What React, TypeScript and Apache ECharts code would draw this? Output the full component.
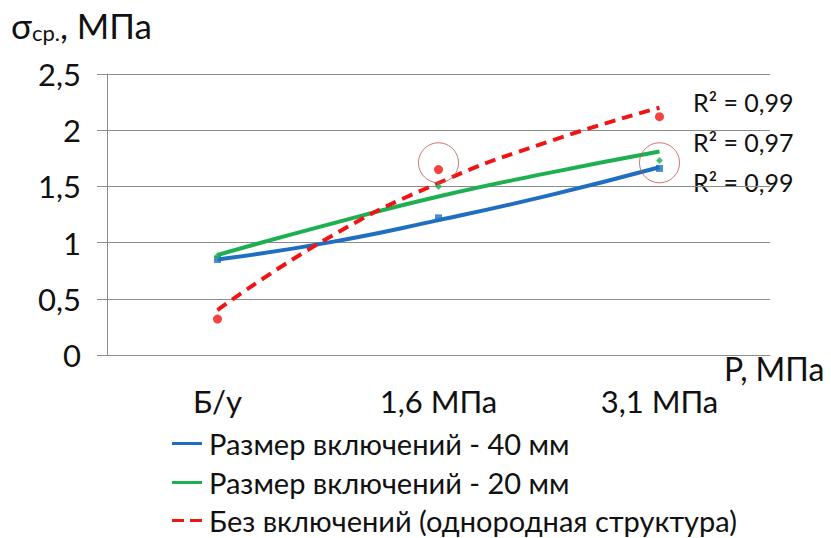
import React, { useEffect, useRef } from "react";
import * as echarts from "echarts";

const categories = ["Б/у", "1,6 МПа", "3,1 МПа"];
const seriesNames = [
  "Размер включений - 40 мм",
  "Размер включений - 20 мм",
  "Без включений (однородная структура)",
];
// measured points
const blueValues = [0.85, 1.22, 1.66];
const greenValues = [0.88, 1.5, 1.73];
const redValues = [0.32, 1.65, 2.12];
// trend lines at positions
const trendX = [1, 1.5, 2, 2.5, 3];
const blueTrend = [0.85, 1.0, 1.2, 1.42, 1.67];
const greenTrend = [0.89, 1.16, 1.41, 1.62, 1.81];
const redTrend = [0.4, 1.04, 1.53, 1.9, 2.2];
// annotation circles (category index, value)
const circleMarks = [
  [1, 1.71],
  [2, 1.71],
];
const r2Labels = ["R² = 0,99", "R² = 0,97", "R² = 0,99"];
const yTicks = [0, 0.5, 1, 1.5, 2, 2.5];

const FONT = "Lato, 'Open Sans', Roboto, sans-serif";
const BLUE = "#1F6FC0";
const GREEN = "#1DAF50";
const RED = "#F01414";
const COLORS = [BLUE, GREEN, RED];

const SOLID_ICON = "path://M0,0h30v3h-30z";
const DASH_ICON = "path://M0,0h12v3h-12z M18,0h12v3h-12z";
const ICONS = [SOLID_ICON, SOLID_ICON, DASH_ICON];
const LEGEND_TOPS = [429, 468, 506];

export default function App() {
  const ref = useRef<HTMLDivElement>(null);
  useEffect(() => {
    if (!ref.current) return;
    const chart = echarts.init(ref.current, undefined, { renderer: "svg" });
    const pair = (xs: number[], ys: number[]) => xs.map((x, i) => [x, ys[i]]);
    chart.setOption({
      animation: false,
      textStyle: { fontFamily: FONT },
      grid: { left: 107, right: 61, top: 74, bottom: 183, containLabel: false },
      xAxis: [
        {
          type: "category",
          data: categories,
          boundaryGap: true,
          axisLine: { lineStyle: { color: "#8c8c8c", width: 1 } },
          axisTick: { alignWithLabel: true, length: 8, lineStyle: { color: "#8c8c8c" } },
          axisLabel: { fontSize: 31, color: "#111", margin: 30, fontFamily: FONT },
        },
        { type: "value", min: 0.5, max: 3.5, show: false },
      ],
      yAxis: {
        type: "value",
        min: yTicks[0],
        max: yTicks[yTicks.length - 1],
        interval: 0.5,
        axisLine: { show: true, lineStyle: { color: "#8c8c8c", width: 1 } },
        axisTick: { show: true, length: 10, lineStyle: { color: "#8c8c8c" } },
        splitLine: { lineStyle: { color: "#8c8c8c", width: 1 } },
        axisLabel: {
          fontSize: 31,
          color: "#111",
          margin: 26,
          fontFamily: FONT,
          formatter: (v: number) => String(v).replace(".", ","),
        },
      },
      legend: seriesNames.map((name, i) => ({
        orient: "vertical",
        left: 172,
        top: LEGEND_TOPS[i],
        padding: 0,
        itemWidth: 30,
        itemHeight: 3,
        itemGap: 0,
        data: [{ name, icon: ICONS[i], itemStyle: { color: COLORS[i] } }],
        textStyle: { fontSize: 29, color: "#111", fontFamily: FONT, padding: [0, 0, 0, 2] },
      })),
      series: [
        {
          name: seriesNames[0],
          type: "line",
          xAxisIndex: 1,
          data: pair(trendX, blueTrend),
          smooth: true,
          symbol: "none",
          lineStyle: { color: BLUE, width: 4 },
          itemStyle: { color: BLUE },
          z: 3,
        },
        {
          name: seriesNames[1],
          type: "line",
          xAxisIndex: 1,
          data: pair(trendX, greenTrend),
          smooth: true,
          symbol: "none",
          lineStyle: { color: GREEN, width: 4 },
          itemStyle: { color: GREEN },
          z: 3,
        },
        {
          name: seriesNames[2],
          type: "line",
          xAxisIndex: 1,
          data: pair(trendX, redTrend),
          smooth: true,
          symbol: "none",
          lineStyle: { color: RED, width: 4, type: [11, 7] },
          itemStyle: { color: RED },
          z: 4,
        },
        {
          name: "pts40",
          type: "scatter",
          data: blueValues,
          symbol: "rect",
          symbolSize: 7,
          itemStyle: { color: BLUE },
          z: 5,
        },
        {
          name: "pts20",
          type: "scatter",
          data: greenValues,
          symbol: "diamond",
          symbolSize: 7,
          itemStyle: { color: GREEN },
          z: 5,
        },
        {
          name: "pts0",
          type: "scatter",
          data: redValues,
          symbol: "circle",
          symbolSize: 9,
          itemStyle: { color: RED },
          z: 5,
        },
        {
          name: "circles",
          type: "scatter",
          data: circleMarks,
          symbol: "circle",
          symbolSize: 40,
          silent: true,
          itemStyle: { color: "rgba(0,0,0,0)", borderColor: "#c0504d", borderWidth: 1 },
          z: 6,
        },
      ],
      graphic: [
        {
          type: "text",
          left: 11,
          top: 7,
          style: {
            text: "{a|σ}{b|ср.}{a|, МПа}",
            rich: {
              a: { fontSize: 35, fontFamily: FONT, fill: "#111" },
              b: { fontSize: 22, fontFamily: FONT, fill: "#111", padding: [15, 0, 0, 0] },
            },
          },
        },
        {
          type: "text",
          left: 724,
          top: 352,
          style: { text: "P, МПа", fontSize: 32, fontFamily: FONT, fill: "#111" },
        },
        ...r2Labels.map((t, i) => ({
          type: "text",
          left: 693,
          top: 89 + i * 40,
          style: { text: t, fontSize: 25, fontFamily: FONT, fill: "#111" },
        })),
      ],
    });
    return () => chart.dispose();
  }, []);
  return (
    <div
      ref={ref}
      style={{ width: 831, height: 538, position: "absolute", left: 0, top: 0 }}
    />
  );
}
